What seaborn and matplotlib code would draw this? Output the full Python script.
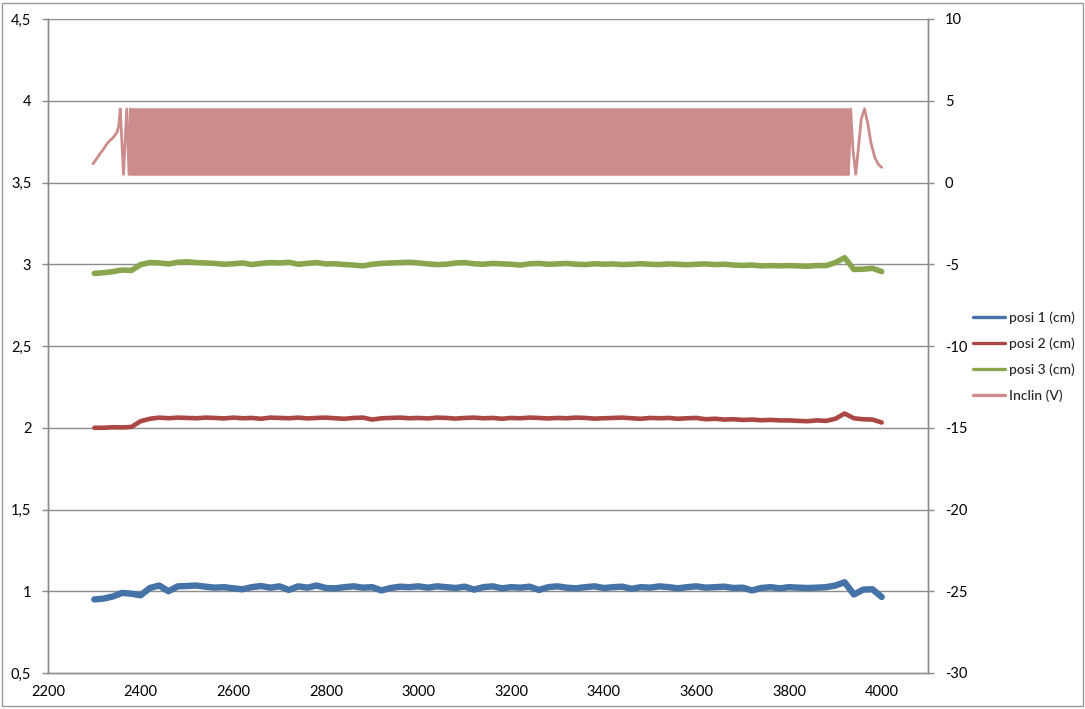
import numpy as np
import pandas as pd
import matplotlib
matplotlib.use("Agg")
import matplotlib.pyplot as plt
import seaborn as sns
from matplotlib.lines import Line2D
from matplotlib.patches import Rectangle

# ---------------- data ----------------
x_pos = np.arange(2300, 4001, 20)

posi1 = [0.950, 0.955, 0.968, 0.990, 0.985, 0.975, 1.020, 1.035, 1.000, 1.030,
         1.032, 1.035, 1.028, 1.022, 1.025, 1.018, 1.012, 1.025, 1.032, 1.022,
         1.030, 1.008, 1.030, 1.022, 1.035, 1.020, 1.018, 1.025, 1.030, 1.022,
         1.025, 1.005, 1.020, 1.028, 1.025, 1.030, 1.022, 1.030, 1.025, 1.020,
         1.028, 1.010, 1.025, 1.030, 1.018, 1.025, 1.022, 1.028, 1.008, 1.025,
         1.030, 1.022, 1.018, 1.025, 1.030, 1.020, 1.025, 1.028, 1.015, 1.025,
         1.022, 1.030, 1.025, 1.018, 1.025, 1.030, 1.022, 1.025, 1.028, 1.020,
         1.022, 1.005, 1.020, 1.025, 1.018, 1.025, 1.022, 1.020, 1.022, 1.025,
         1.035, 1.055, 0.980, 1.010, 1.012, 0.965]

posi2 = [2.000, 2.000, 2.003, 2.002, 2.005, 2.040, 2.055, 2.062, 2.058, 2.062,
         2.060, 2.058, 2.062, 2.060, 2.057, 2.062, 2.058, 2.060, 2.055, 2.062,
         2.060, 2.058, 2.062, 2.057, 2.060, 2.062, 2.058, 2.055, 2.060, 2.062,
         2.050, 2.058, 2.060, 2.062, 2.058, 2.060, 2.057, 2.062, 2.060, 2.056,
         2.060, 2.062, 2.058, 2.060, 2.055, 2.060, 2.058, 2.062, 2.060, 2.057,
         2.060, 2.058, 2.062, 2.060, 2.056, 2.058, 2.060, 2.062, 2.058, 2.055,
         2.060, 2.058, 2.060, 2.055, 2.058, 2.060, 2.052, 2.055, 2.050, 2.052,
         2.048, 2.050, 2.046, 2.048, 2.045, 2.045, 2.042, 2.040, 2.045, 2.042,
         2.055, 2.087, 2.058, 2.052, 2.050, 2.032]

posi3 = [2.944, 2.948, 2.955, 2.965, 2.962, 2.998, 3.010, 3.008, 3.002, 3.012,
         3.015, 3.010, 3.008, 3.005, 3.000, 3.003, 3.008, 2.998, 3.005, 3.010,
         3.008, 3.012, 3.000, 3.005, 3.010, 3.002, 3.003, 2.998, 2.995, 2.990,
         3.000, 3.005, 3.008, 3.010, 3.012, 3.008, 3.002, 2.998, 3.000, 3.008,
         3.010, 3.003, 3.000, 3.005, 3.002, 3.000, 2.995, 3.003, 3.005, 3.000,
         3.002, 3.005, 3.000, 2.998, 3.003, 3.000, 3.002, 2.998, 3.000, 3.003,
         3.000, 2.998, 3.002, 3.000, 2.997, 3.000, 3.002, 2.998, 3.000, 2.995,
         2.993, 2.995, 2.990, 2.992, 2.990, 2.992, 2.990, 2.988, 2.992, 2.992,
         3.010, 3.040, 2.968, 2.970, 2.975, 2.955]

# Inclin (V), right axis: start and end turning points
inclin_start_x = [2297, 2305, 2312, 2320, 2327, 2334, 2341, 2349, 2353, 2356, 2363, 2370, 2375, 2378]
inclin_start_y = [1.14, 1.45, 1.75, 2.05, 2.36, 2.58, 2.76, 3.07, 3.5, 4.5, 0.5, 4.5, 0.5, 4.5]
# dense oscillation envelope
inclin_band_x = [2378, 3928]
inclin_band_hi = [4.5, 4.5]
inclin_band_lo = [0.5, 0.5]
inclin_end_x = [3928, 3931, 3933, 3938, 3944, 3950, 3956, 3963, 3970, 3977, 3985, 3993, 4000]
inclin_end_y = [0.5, 2.5, 4.5, 2.0, 0.5, 2.2, 3.9, 4.5, 3.6, 2.4, 1.54, 1.1, 0.93]

left_ticks = [0.5, 1, 1.5, 2, 2.5, 3, 3.5, 4, 4.5]
left_labels = ["0,5", "1", "1,5", "2", "2,5", "3", "3,5", "4", "4,5"]
right_ticks = [-30, -25, -20, -15, -10, -5, 0, 5, 10]
right_labels = ["-30", "-25", "-20", "-15", "-10", "-5", "0", "5", "10"]
x_ticks = [2200, 2400, 2600, 2800, 3000, 3200, 3400, 3600, 3800, 4000]

names = ["posi 1 (cm)", "posi 2 (cm)", "posi 3 (cm)", "Inclin (V)"]
colors = ["#4572A7", "#AA4643", "#89A54E", "#CD8C8C"]

# ---------------- plot ----------------
sns.set_style("white")
plt.rcParams["font.family"] = ["Lato", "DejaVu Sans"]

fig = plt.figure(figsize=(10.85, 7.09), dpi=100)
ax = fig.add_axes([48 / 1085, 1 - 673 / 709, (928 - 48) / 1085, (673 - 19) / 709])
ax2 = ax.twinx()

gray = "#8C8C8C"

df_pos = pd.DataFrame({"x": x_pos, "p1": posi1, "p2": posi2, "p3": posi3})
sns.lineplot(data=df_pos, x="x", y="p1", ax=ax, color=colors[0], lw=4.6, estimator=None)
sns.lineplot(data=df_pos, x="x", y="p2", ax=ax, color=colors[1], lw=3.3, estimator=None)
sns.lineplot(data=df_pos, x="x", y="p3", ax=ax, color=colors[2], lw=4.0, estimator=None)

df_s = pd.DataFrame({"x": inclin_start_x, "y": inclin_start_y})
df_e = pd.DataFrame({"x": inclin_end_x, "y": inclin_end_y})
sns.lineplot(data=df_s, x="x", y="y", ax=ax2, color=colors[3], lw=2.0, estimator=None, sort=False)
sns.lineplot(data=df_e, x="x", y="y", ax=ax2, color=colors[3], lw=2.0, estimator=None, sort=False)
ax2.fill_between(inclin_band_x, inclin_band_lo, inclin_band_hi, color=colors[3],
                 edgecolor=colors[3], lw=1.8)

ax.set_xlim(2200, 4100)
ax.set_ylim(0.5, 4.5)
ax2.set_ylim(-30, 10)

ax.set_xticks(x_ticks)
ax.set_xticklabels([str(t) for t in x_ticks])
ax.set_yticks(left_ticks)
ax.set_yticklabels(left_labels)
ax2.set_yticks(right_ticks)
ax2.set_yticklabels(right_labels)

for a in (ax, ax2):
    a.set_xlabel("")
    a.set_ylabel("")
    a.grid(False)

for t in left_ticks[1:]:
    ax.axhline(t, color=gray, lw=1.0, zorder=0)

for sp in ("top",):
    ax.spines[sp].set_visible(False)
    ax2.spines[sp].set_visible(False)
for sp in ("left", "bottom", "right"):
    ax.spines[sp].set_color(gray)
    ax2.spines[sp].set_color(gray)
    ax.spines[sp].set_linewidth(1.0)
    ax2.spines[sp].set_linewidth(1.0)

ax.tick_params(axis="both", which="major", direction="out", length=4, width=1,
               color=gray, labelsize=10.5, labelcolor="#000000")
ax.tick_params(axis="y", pad=8)
ax.tick_params(axis="x", pad=5)
ax2.tick_params(axis="y", direction="out", length=4, width=1, color=gray,
                labelsize=10.5, labelcolor="#000000", pad=8)
ax.set_zorder(ax2.get_zorder() + 1)
ax.patch.set_visible(False)

handles = [Line2D([0], [0], color=c, lw=2.4) for c in colors]
fig.legend(handles, names, loc="upper left", bbox_to_anchor=(967 / 1085, 1 - 306 / 709),
           frameon=False, prop={"size": 10, "weight": "medium"}, handlelength=2.3,
           handletextpad=0.3, labelspacing=0.95, borderaxespad=0)

fig.patches.append(Rectangle((0.002, 0.004), 0.996, 0.992, transform=fig.transFigure,
                             fill=False, edgecolor="#9A9A9A", lw=1.0))

fig.savefig("out.png", dpi=100)
